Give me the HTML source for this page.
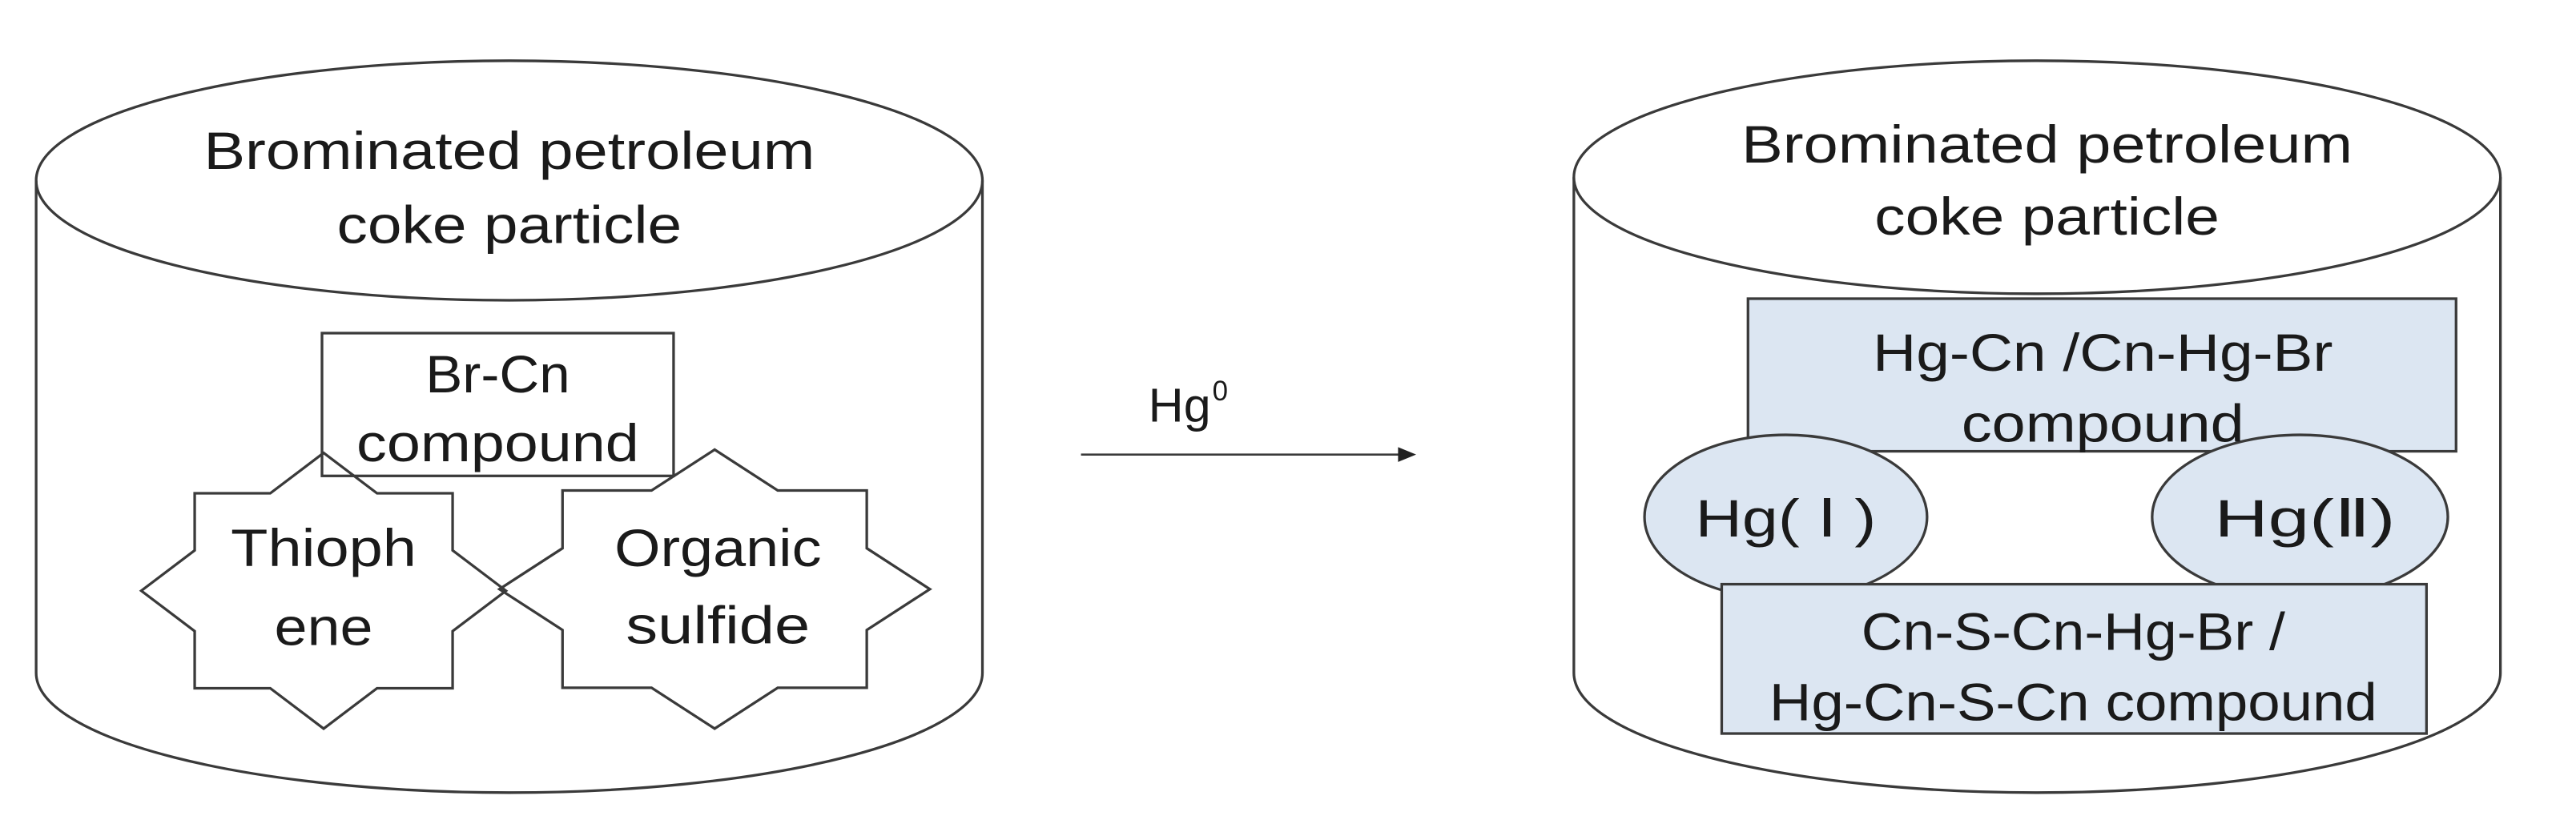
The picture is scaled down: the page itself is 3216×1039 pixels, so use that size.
<!DOCTYPE html>
<html><head><meta charset="utf-8"><style>
html,body{margin:0;padding:0;background:#fff;}
svg{display:block;}
text{font-family:"Liberation Sans",sans-serif;fill:#1a1a1a;}
</style></head><body>
<svg width="3216" height="1039" viewBox="0 0 1568 507" preserveAspectRatio="none" xmlns="http://www.w3.org/2000/svg">
<g fill="none" stroke="#3a3a3a" stroke-width="1.6">
  <path d="M22,110 L22,410 A288,73 0 0 0 598,410 L598,110"/>
  <ellipse cx="310" cy="110" rx="288" ry="73"/>
  <path d="M958,108 L958,410 A282,73 0 0 0 1522,410 L1522,108"/>
  <ellipse cx="1240" cy="108" rx="282" ry="71"/>
  <rect x="196" y="203" width="214" height="87"/>
  <polygon points="308,360 275.5,335.4 275.5,300.6 229.5,300.6 197,276 164.5,300.6 118.5,300.6 118.5,335.4 86,360 118.5,384.6 118.5,419.4 164.5,419.4 197,444 229.5,419.4 275.5,419.4 275.5,384.6"/>
  <polygon points="566,359 527.6,334.1 527.6,298.9 473.4,298.9 435,274 396.6,298.9 342.4,298.9 342.4,334.1 304,359 342.4,383.9 342.4,419.1 396.6,419.1 435,444 473.4,419.1 527.6,419.1 527.6,383.9"/>
  <line x1="658" y1="277" x2="856" y2="277" stroke-width="1.3"/>
</g>
<polygon points="862,277 851,272.5 851,281.5" fill="#222"/>
<g stroke="#3a3a3a" stroke-width="1.6" fill="#dce6f2">
  <rect x="1064" y="182" width="431" height="93"/>
  <ellipse cx="1087" cy="315" rx="86" ry="50"/>
  <ellipse cx="1400" cy="315" rx="90" ry="50"/>
  <rect x="1048" y="356" width="429" height="91"/>
</g>
<g font-size="32" text-anchor="middle">
  <text x="310" y="103" textLength="372" lengthAdjust="spacingAndGlyphs">Brominated petroleum</text>
  <text x="310" y="148" textLength="210" lengthAdjust="spacingAndGlyphs">coke particle</text>
  <text x="1246" y="99" textLength="372" lengthAdjust="spacingAndGlyphs">Brominated petroleum</text>
  <text x="1246" y="143" textLength="210" lengthAdjust="spacingAndGlyphs">coke particle</text>
  <text x="303" y="239" textLength="88" lengthAdjust="spacingAndGlyphs">Br-Cn</text>
  <text x="303" y="281" textLength="172" lengthAdjust="spacingAndGlyphs">compound</text>
  <text x="197" y="345" textLength="113" lengthAdjust="spacingAndGlyphs">Thioph</text>
  <text x="197" y="393" textLength="60" lengthAdjust="spacingAndGlyphs">ene</text>
  <text x="437" y="345" textLength="126" lengthAdjust="spacingAndGlyphs">Organic</text>
  <text x="437" y="392" textLength="112" lengthAdjust="spacingAndGlyphs">sulfide</text>
  <text x="1280" y="226" textLength="280" lengthAdjust="spacingAndGlyphs">Hg-Cn /Cn-Hg-Br</text>
  <text x="1280" y="269" textLength="172" lengthAdjust="spacingAndGlyphs">compound</text>
  <text x="1087" y="327" textLength="110" lengthAdjust="spacingAndGlyphs">Hg( Ⅰ )</text>
  <text x="1403" y="327" textLength="110" lengthAdjust="spacingAndGlyphs">Hg(Ⅱ)</text>
  <text x="1262" y="396" textLength="258" lengthAdjust="spacingAndGlyphs">Cn-S-Cn-Hg-Br /</text>
  <text x="1262" y="439" textLength="370" lengthAdjust="spacingAndGlyphs">Hg-Cn-S-Cn compound</text>
</g>
<text x="699" y="257" font-size="29" textLength="38" lengthAdjust="spacingAndGlyphs">Hg</text>
<text x="738" y="244" font-size="17">0</text>
</svg>
</body></html>
